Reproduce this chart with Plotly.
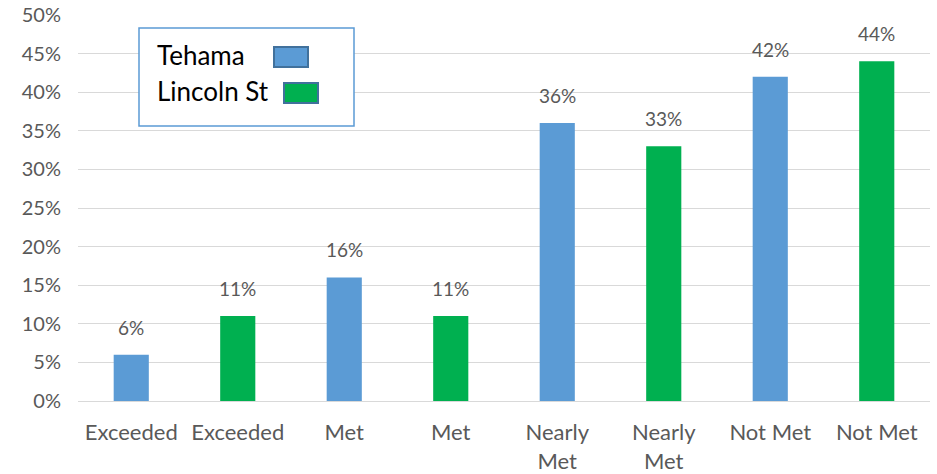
import plotly.graph_objects as go

# Performance levels, one bar per school per level
categories = ["Exceeded", "Exceeded", "Met", "Met", "Nearly<br>Met", "Nearly<br>Met", "Not Met", "Not Met"]
schools = ["Tehama", "Lincoln St", "Tehama", "Lincoln St", "Tehama", "Lincoln St", "Tehama", "Lincoln St"]
percentages = [6, 11, 16, 11, 36, 33, 42, 44]
y_ticks = [0, 5, 10, 15, 20, 25, 30, 35, 40, 45, 50]

school_colors = {"Tehama": "#5B9BD5", "Lincoln St": "#00B050"}
text_color = "#595959"
font_family = "Lato, 'Open Sans', sans-serif"

positions = list(range(len(categories)))

fig = go.Figure()
fig.add_trace(go.Bar(
    x=positions,
    y=percentages,
    marker=dict(color=[school_colors[s] for s in schools], line=dict(width=0)),
    width=0.33,
    showlegend=False,
    hoverinfo="skip",
))

# Plot area geometry (pixels) used for the hand-drawn legend box
W, H = 937, 474
L, R, T, B = 78, 7, 15, 73
pw, ph = W - L - R, H - T - B


def px(x):
    return (x - L) / pw


def py(y):
    return (H - B - y) / ph


annotations = []
# Value labels above each bar
for xp, v in zip(positions, percentages):
    annotations.append(dict(x=xp, y=v, xref="x", yref="y", text=f"{v}%",
                            showarrow=False, yanchor="bottom", yshift=14,
                            font=dict(size=19, color=text_color, family=font_family)))

shapes = [
    dict(type="rect", xref="paper", yref="paper",
         x0=px(139), x1=px(354), y0=py(126), y1=py(28),
         line=dict(color="#5B9BD5", width=1.5), fillcolor="white", layer="above"),
]
legend_rows = [("Tehama", 55, 57, 274), ("Lincoln St", 91, 93, 284)]
for name, ty, sy, sx in legend_rows:
    shapes.append(dict(type="rect", xref="paper", yref="paper",
                       x0=px(sx), x1=px(sx + 34), y0=py(sy + 10), y1=py(sy - 10),
                       line=dict(color="#41719C", width=2),
                       fillcolor=school_colors[name], layer="above"))
    annotations.append(dict(xref="paper", yref="paper", x=px(155), y=py(ty),
                            xanchor="left", yanchor="middle", text=name,
                            showarrow=False,
                            font=dict(size=26, color="#000000", family=font_family)))

fig.update_layout(
    width=W, height=H,
    margin=dict(l=L, r=R, t=T, b=B),
    paper_bgcolor="white", plot_bgcolor="white",
    bargap=0.67,
    shapes=shapes,
    annotations=annotations,
    font=dict(family=font_family, color=text_color),
)
fig.update_xaxes(
    tickmode="array", tickvals=positions, ticktext=categories,
    range=[-0.5, len(categories) - 0.5],
    showgrid=False, showline=True, linecolor="#D9D9D9", linewidth=1,
    ticks="", tickfont=dict(size=22, color=text_color),
    ticklabelstandoff=12, fixedrange=True, automargin=False,
)
fig.update_yaxes(
    range=[0, 50], tickvals=y_ticks, ticktext=[f"{v}%" for v in y_ticks],
    showgrid=True, gridcolor="#D9D9D9", gridwidth=1, zeroline=False,
    ticks="", tickfont=dict(size=20, color=text_color),
    ticklabelstandoff=16, fixedrange=True, automargin=False,
)

fig.write_html("out.html")
